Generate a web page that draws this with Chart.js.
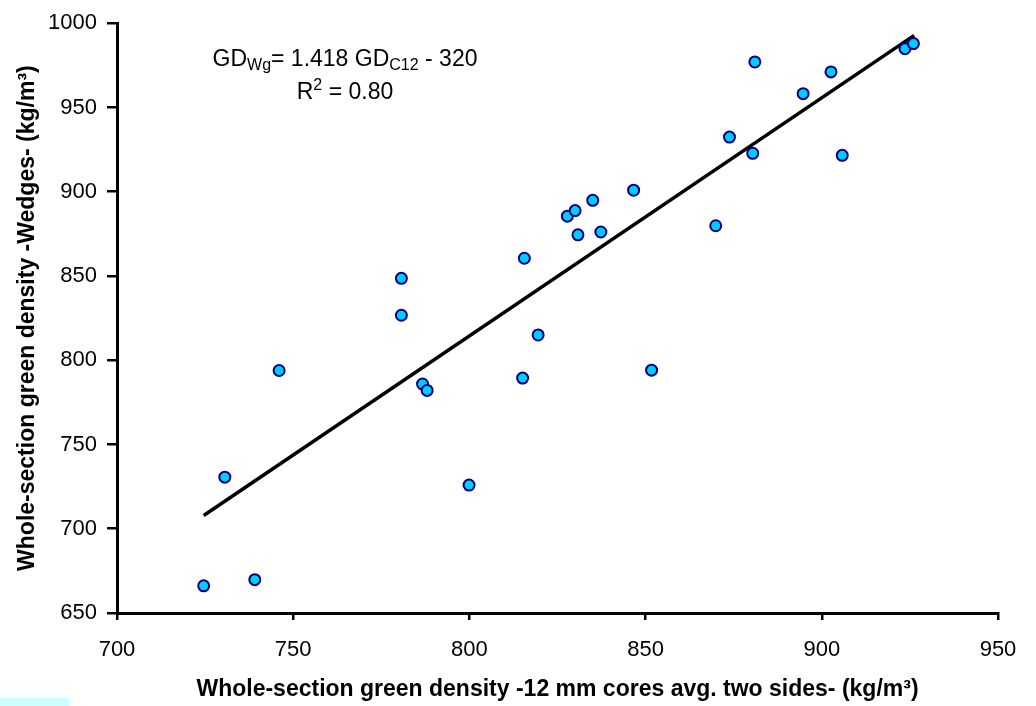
<!DOCTYPE html>
<html>
<head>
<meta charset="utf-8">
<script src="https://cdn.jsdelivr.net/npm/chart.js@4.4.1/dist/chart.umd.min.js"></script>
<style>
  html, body { margin: 0; padding: 0; background: #fff; }
  #wrap { position: relative; width: 1036px; height: 706px; }
  #corner { position: absolute; left: 0; top: 698px; width: 69px; height: 8px; background: #ccffff; }
</style>
</head>
<body>
<div id="wrap">
  <canvas id="densityChart" width="1036" height="706"></canvas>
  <div id="corner"></div>
</div>
<script>
// ==================== DATA ====================

// Whole-section green density, 12 mm cores (avg. two sides), kg/m3
const coresDensity = [724.6, 730.6, 739.1, 746.0, 780.7, 780.7, 786.7, 788.0, 799.9, 815.1,
  815.6, 819.5, 827.8, 830.0, 830.8, 835.0, 837.3, 846.6, 851.7, 869.9,
  873.8, 880.4, 881.0, 894.7, 902.6, 905.8, 923.6, 926.0];

// Whole-section green density, wedges, kg/m3
const wedgesDensity = [666.1, 730.6, 669.8, 793.9, 848.6, 826.7, 785.9, 782.1, 725.9, 789.4,
  860.5, 815.0, 885.5, 888.8, 874.4, 894.9, 876.1, 900.9, 794.1, 879.8,
  932.4, 922.8, 977.0, 958.2, 971.1, 921.6, 984.9, 987.9];

// Linea di regressione (estremi)
const trendX = [724.6, 926.2];
const trendY = [707.9, 992.8];

const xTicks = [700, 750, 800, 850, 900, 950];
const yTicks = [650, 700, 750, 800, 850, 900, 950, 1000];

// Testo dell'equazione, pezzi normali / pedice / apice
const eqLine1 = [
  { text: 'GD' }, { text: 'Wg', sub: true }, { text: '= 1.418 GD' },
  { text: 'C12', sub: true }, { text: ' - 320' }
];
const eqLine2 = [{ text: 'R' }, { text: '2', sup: true }, { text: ' = 0.80' }];

// ==================== CHART ====================

const FONT = "'Liberation Sans', Arial, sans-serif";

function drawRichLine(ctx, parts, cx, baseline) {
  const big = '23px ' + FONT;
  const small = '16px ' + FONT;
  let total = 0;
  parts.forEach(p => {
    ctx.font = (p.sub || p.sup) ? small : big;
    p.w = ctx.measureText(p.text).width;
    total += p.w;
  });
  let x = cx - total / 2;
  ctx.textAlign = 'left';
  ctx.textBaseline = 'alphabetic';
  ctx.fillStyle = '#000';
  parts.forEach(p => {
    ctx.font = (p.sub || p.sup) ? small : big;
    let dy = 0;
    if (p.sub) dy = 4;
    if (p.sup) dy = -9;
    ctx.fillText(p.text, x, baseline + dy);
    x += p.w;
  });
}

const equationPlugin = {
  id: 'equation',
  afterDatasetsDraw(chart) {
    const { ctx, scales } = chart;
    const cx = scales.x.getPixelForValue(764.7);
    ctx.save();
    drawRichLine(ctx, eqLine1, cx, scales.y.getPixelForValue(974.6));
    drawRichLine(ctx, eqLine2, cx, scales.y.getPixelForValue(955.0));
    ctx.restore();
  }
};

const ctx = document.getElementById('densityChart');
new Chart(ctx, {
  type: 'scatter',
  data: {
    datasets: [
      {
        label: 'Trend',
        type: 'line',
        data: trendX.map((v, i) => ({ x: v, y: trendY[i] })),
        borderColor: '#000',
        borderWidth: 3.5,
        pointRadius: 0,
        fill: false,
        order: 2
      },
      {
        label: 'Wedges vs cores',
        data: coresDensity.map((v, i) => ({ x: v, y: wedgesDensity[i] })),
        backgroundColor: '#00ccff',
        borderColor: '#000080',
        borderWidth: 2,
        pointRadius: 5.5,
        order: 1
      }
    ]
  },
  options: {
    responsive: false,
    animation: false,
    layout: { padding: { top: 16, right: 38, left: 0, bottom: 0 } },
    plugins: {
      legend: { display: false },
      tooltip: { enabled: false }
    },
    scales: {
      x: {
        type: 'linear',
        min: 700,
        max: 950,
        afterFit: s => { s.height = 93; },
        afterBuildTicks: s => { s.ticks = xTicks.map(v => ({ value: v })); },
        border: { display: true, color: '#000', width: 3 },
        grid: { drawOnChartArea: false, drawTicks: true, tickLength: 7, color: '#000', lineWidth: 2.5 },
        ticks: { color: '#000', padding: 17, font: { family: FONT, size: 22 }, callback: v => String(v) },
        title: {
          display: true,
          text: 'Whole-section green density -12 mm cores avg. two sides- (kg/m³)',
          color: '#000',
          padding: { bottom: 3 },
          font: { family: FONT, size: 23, weight: 'bold' }
        }
      },
      y: {
        type: 'linear',
        min: 650,
        max: 1000,
        afterFit: s => { s.width = 117; },
        afterBuildTicks: s => { s.ticks = yTicks.map(v => ({ value: v })); },
        border: { display: true, color: '#000', width: 3 },
        grid: { drawOnChartArea: false, drawTicks: true, tickLength: 10, color: '#000', lineWidth: 2.5 },
        ticks: { color: '#000', padding: 10, font: { family: FONT, size: 22 }, callback: v => String(v) },
        title: {
          display: true,
          text: 'Whole-section green density -Wedges- (kg/m³)',
          color: '#000',
          padding: { top: 14 },
          font: { family: FONT, size: 23, weight: 'bold' }
        }
      }
    }
  },
  plugins: [equationPlugin]
});
</script>
</body>
</html>
